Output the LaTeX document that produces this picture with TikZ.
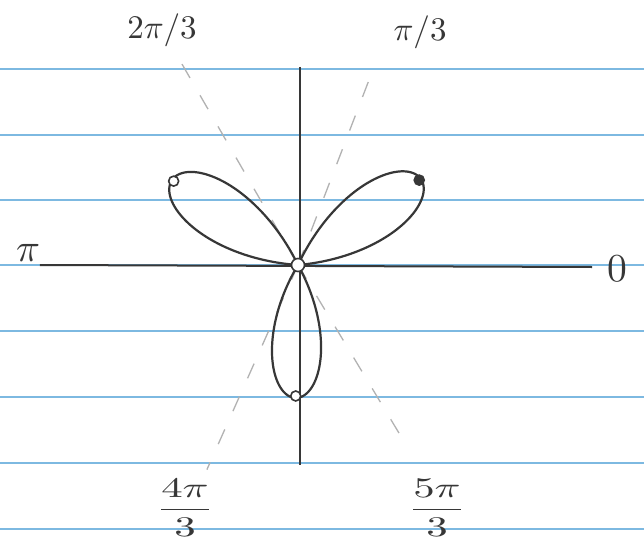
\documentclass[tikz,border=0pt]{standalone}
\usepackage{amsmath}
\usetikzlibrary{calc}
\definecolor{ruled}{RGB}{125,185,225}
\definecolor{ink}{RGB}{55,55,55}
\tikzset{leaf/.style={ink,line width=2.2pt,line join=round},
  ray/.style={gray!60,line width=1.3pt,dash pattern=on 16pt off 20pt},
  axis/.style={ink,line width=2pt},
  tip/.style={circle,draw=ink,fill=white,line width=1.6pt,inner sep=0pt,minimum size=10pt},
  lbl/.style={text=ink,scale=3.3},
  fracl/.style={lbl,xscale=1.3,yscale=0.86}}

\begin{document}
\begin{tikzpicture}[x=1pt,y=1pt]
\useasboundingbox (-298,-276) rectangle (346,265);
\fill[white] (-298,-276) rectangle (346,265);
\foreach \y in {196,130,65,0,-66,-132,-198,-264}
  \draw[ruled,line width=2.2pt] (-298,\y) -- (346,\y);
\coordinate (O) at (0,0);
\foreach \a/\l in {69/209,120/235,246/224,301/205}
  \draw[ray] (O) -- ++(\a:\l);
\draw[axis] (-258,0) -- (294,-2);
\draw[axis] (2,198) -- (2,-200);
\foreach \ang/\len [evaluate=\ang as \lo using \ang-30, evaluate=\ang as \hi using \ang+30] in {35/150,146/152,269/133}
  \draw[leaf] plot[domain=\lo:\hi,samples=80,smooth]
    ({\len*cos(3*(\x-\ang))*cos(\x)},{\len*cos(3*(\x-\ang))*sin(\x)});
\node[tip] (ul) at (146:150) {};
\node[tip,fill=ink] (ur) at (35:148) {};
\node[tip] (bot) at (269:131) {};
\node[tip,minimum size=13pt] (orig) at (O) {};
\node[lbl] (twothirds) at (-136,235) {$2\pi/3$};
\node[lbl] (onethird) at (122,233) {$\pi/3$};
\node[lbl,scale=1.2] (pi) at (-270,12) {$\pi$};
\node[lbl,scale=1.2] (zero) at (319,-4) {$0$};
\node[fracl] (fourthirds) at (-113,-243) {$\dfrac{4\pi}{3}$};
\node[fracl] (fivethirds) at (139,-243) {$\dfrac{5\pi}{3}$};
\end{tikzpicture}
\end{document}
